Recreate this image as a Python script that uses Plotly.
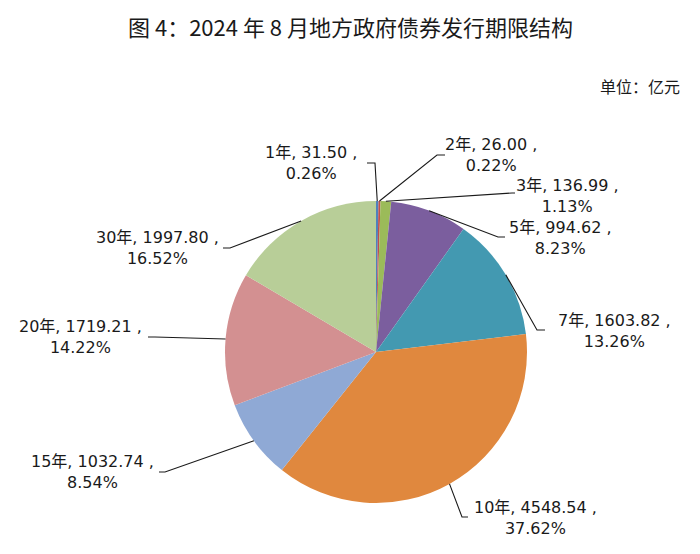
import math
import plotly.graph_objects as go

# ---- data ----
terms = ["1年", "2年", "3年", "5年", "7年", "10年", "15年", "20年", "30年"]
amounts = [31.50, 26.00, 136.99, 994.62, 1603.82, 4548.54, 1032.74, 1719.21, 1997.80]
shares = ["0.26%", "0.22%", "1.13%", "8.23%", "13.26%", "37.62%", "8.54%", "14.22%", "16.52%"]
colors = ["#4F81BD", "#C0504D", "#9BBB59", "#7B5E9E", "#4399B1",
          "#E0883E", "#8FA9D5", "#D39091", "#B8CE98"]

# ---- layout (pixels) ----
W, H = 700, 554
CX, CY, R = 376, 352, 151
# label block centres and elbow points for leader lines (pixel coords)
label_pos = [(311, 163), (491, 155), (567, 196), (560, 238), (614, 331),
             (535, 518), (92, 472), (80, 337), (157, 248)]
elbow = [(375, 163), (437, 155), (512, 193), (498, 237), (537, 330),
         (462, 517), (165, 472), (155, 337), (230, 248)]
tail = [(367, 163), (445, 155), (515, 193), (505, 237), (545, 330),
        (468, 517), (159, 472), (148, 337), (223, 248)]

def px(x):
    return x / W

def py(y):
    return 1 - y / H

fig = go.Figure(go.Pie(
    labels=terms, values=amounts, sort=False, direction="clockwise", rotation=0,
    marker=dict(colors=colors, line=dict(width=0)),
    textinfo="none", showlegend=False,
    domain=dict(x=[px(CX - R), px(CX + R)], y=[py(CY + R), py(CY - R)]),
))

total = sum(amounts)
cum = 0.0
shapes = []
annotations = []
for i, (t, a, s) in enumerate(zip(terms, amounts, shares)):
    mid = (cum + a / 2) / total
    cum += a
    ang = 2 * math.pi * mid
    ex, ey = CX + R * math.sin(ang), CY - R * math.cos(ang)
    pts = [(ex, ey), elbow[i], tail[i]]
    path = "M " + " L ".join(f"{px(x):.5f},{py(y):.5f}" for x, y in pts)
    shapes.append(dict(type="path", path=path, xref="paper", yref="paper",
                       line=dict(color="#1a1a1a", width=1.1)))
    lx, ly = label_pos[i]
    annotations.append(dict(
        x=px(lx), y=py(ly), xref="paper", yref="paper",
        text=f"{t}, {a:.2f} ,<br>{s}", showarrow=False,
        xanchor="center", yanchor="middle", align="center",
        font=dict(family="DejaVu Sans, Noto Sans CJK SC", size=16, color="#1a1a1a"),
    ))

annotations.append(dict(
    x=px(350), y=py(26), xref="paper", yref="paper",
    text="图 4：2024 年 8 月地方政府债券发行期限结构", showarrow=False,
    xanchor="center", yanchor="middle",
    font=dict(family="Noto Sans CJK SC", size=22, color="#1a1a1a"),
))
annotations.append(dict(
    x=px(682), y=py(86), xref="paper", yref="paper",
    text="单位：亿元", showarrow=False, xanchor="right", yanchor="middle",
    font=dict(family="Noto Sans CJK SC", size=16, color="#1a1a1a"),
))

fig.update_layout(
    width=W, height=H, margin=dict(l=0, r=0, t=0, b=0),
    paper_bgcolor="white", plot_bgcolor="white",
    shapes=shapes, annotations=annotations,
)

fig.write_html("out.html")
